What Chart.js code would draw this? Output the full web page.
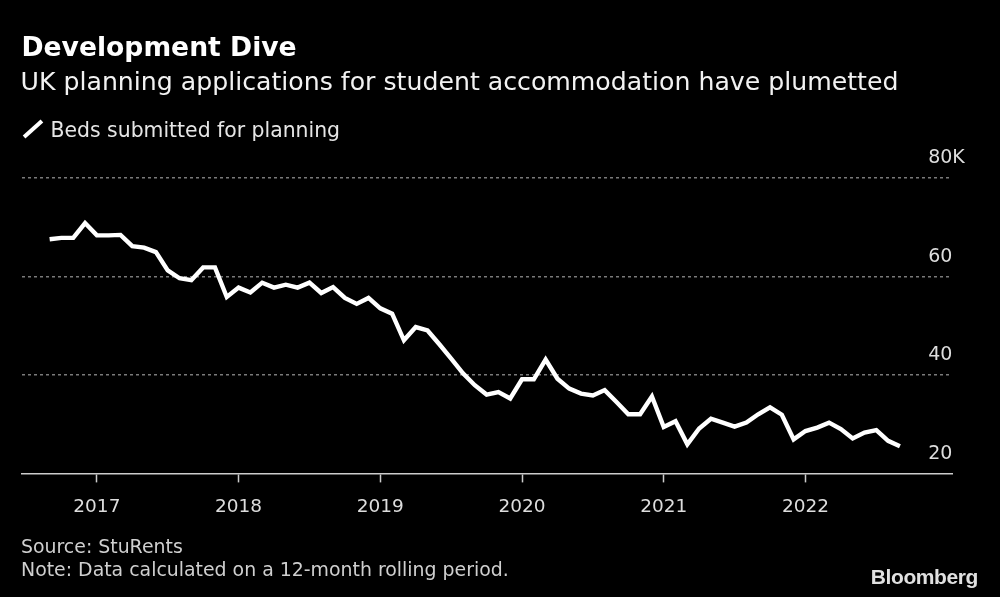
<!DOCTYPE html>
<html><head><meta charset="utf-8">
<script src="https://cdn.jsdelivr.net/npm/chart.js@4"></script>
<style>
html,body{margin:0;padding:0;background:#000;width:1000px;height:597px;overflow:hidden;}
#wrap{position:absolute;left:0;top:0;width:1000px;height:597px;}
.t{position:absolute;white-space:nowrap;font-family:"DejaVu Sans";line-height:1;}
#icon{position:absolute;left:20.9px;top:126.9px;width:24px;height:4px;background:#fff;transform:rotate(-42deg);}
</style></head><body>
<div id="wrap"><canvas id="c"></canvas></div>
<div class="t" style="left:21.5px;top:34.3px;font-size:26.6px;font-weight:bold;color:#fff">Development Dive</div>
<div class="t" style="left:20.5px;top:68.7px;font-size:25.2px;color:#f2f2f2">UK planning applications for student accommodation have plumetted</div>
<div id="icon"></div>
<div class="t" style="left:50.5px;top:119.5px;font-size:20.4px;color:#e6e6e6">Beds submitted for planning</div>
<div class="t" style="left:21px;top:536.7px;font-size:18.9px;color:#cfcfcf">Source: StuRents</div>
<div class="t" style="left:21px;top:560px;font-size:18.9px;color:#cfcfcf">Note: Data calculated on a 12-month rolling period.</div>
<div class="t" style="right:22px;top:566.2px;font-size:21px;font-family:'Liberation Sans';font-weight:bold;color:#e0e0e0;letter-spacing:-0.4px">Bloomberg</div>
<script>
const months = ['2016-09','2016-10','2016-11','2016-12',
  '2017-01','2017-02','2017-03','2017-04','2017-05','2017-06','2017-07','2017-08','2017-09','2017-10','2017-11','2017-12',
  '2018-01','2018-02','2018-03','2018-04','2018-05','2018-06','2018-07','2018-08','2018-09','2018-10','2018-11','2018-12',
  '2019-01','2019-02','2019-03','2019-04','2019-05','2019-06','2019-07','2019-08','2019-09','2019-10','2019-11','2019-12',
  '2020-01','2020-02','2020-03','2020-04','2020-05','2020-06','2020-07','2020-08','2020-09','2020-10','2020-11','2020-12',
  '2021-01','2021-02','2021-03','2021-04','2021-05','2021-06','2021-07','2021-08','2021-09','2021-10','2021-11','2021-12',
  '2022-01','2022-02','2022-03','2022-04','2022-05','2022-06','2022-07','2022-08','2022-09'];
// beds submitted, thousands
const beds = [67.5,67.8,67.8,70.8,
  68.3,68.3,68.4,66.1,65.8,64.9,61.2,59.6,59.2,61.8,61.8,55.8,
  57.7,56.7,58.7,57.7,58.3,57.7,58.7,56.6,57.8,55.6,54.4,55.6,
  53.5,52.4,47.0,49.7,49.0,46.2,43.3,40.3,37.9,36.0,36.5,35.2,
  39.1,39.1,43.1,39.2,37.2,36.2,35.8,36.9,34.5,32.0,32.0,35.6,
  29.4,30.6,25.9,29.1,31.1,30.3,29.5,30.3,32.0,33.4,31.9,26.9,
  28.6,29.3,30.3,29.0,27.1,28.3,28.8,26.6,25.5];
const yearTicks = ['2017','2018','2019','2020','2021','2022'];
const yTicks = [20,40,60,80];

const yearIdx = yearTicks.map(y => months.indexOf(y + '-01'));
const points = beds.map((v, i) => ({x: i, y: v}));

new Chart(document.getElementById('c'), {
  type: 'line',
  data: { datasets: [{ data: points, borderColor: '#ffffff', borderWidth: 4.4,
    pointRadius: 0, tension: 0, fill: false, borderJoinStyle: 'miter' }] },
  options: {
    responsive: true, maintainAspectRatio: false, animation: false,
    layout: { padding: { left: 22, right: 24, top: 177.7, bottom: 63.6 } },
    plugins: { legend: { display: false }, tooltip: { enabled: false } },
    scales: {
      x: {
        type: 'linear', min: -2.34, max: 76.41,
        afterBuildTicks: s => { s.ticks = yearIdx.map(v => ({value: v})); },
        afterFit: s => { s.height = 60; },
        grid: { drawOnChartArea: false, drawTicks: true, tickLength: 9, tickColor: '#cccccc', tickWidth: 1.5 },
        border: { display: true, color: '#cccccc', width: 1.5 },
        ticks: { autoSkip: false, maxRotation: 0, padding: 14, color: '#dddddd',
          font: { family: 'DejaVu Sans', size: 18.5 },
          callback: v => { const k = yearIdx.indexOf(v); return k >= 0 ? yearTicks[k] : ''; } }
      },
      y: {
        position: 'right', min: 20, max: 80,
        afterBuildTicks: s => { s.ticks = yTicks.map(v => ({value: v})); },
        afterFit: s => { s.width = 24; },
        grid: { drawTicks: false, lineWidth: 1.5,
          color: c => (c.tick && c.tick.value === 20) ? 'rgba(0,0,0,0)' : '#7a7a7a' },
        border: { display: false, dash: [3, 3] },
        ticks: { mirror: true, crossAlign: 'far', padding: 12.8, labelOffset: -19.6, color: '#dddddd',
          font: { family: 'DejaVu Sans', size: 19 },
          callback: v => v === 80 ? v + 'K' : String(v) }
      }
    }
  }
});
</script>
</body></html>
